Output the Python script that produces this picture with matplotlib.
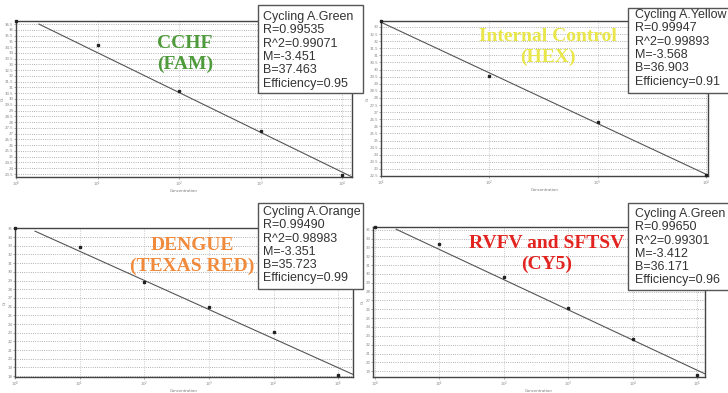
import numpy as np
import matplotlib.pyplot as plt
from matplotlib.patches import Rectangle
from matplotlib.ticker import MultipleLocator, FuncFormatter, LogLocator, NullLocator

# Standard curves: Ct vs concentration, one panel per channel

# CCHF (FAM)
cchf_conc = [1, 10, 100, 1000, 10000]
cchf_ct = [36.75, 34.7, 30.7, 27.2, 23.4]
cchf_fit = (-3.451, 37.463)
cchf_fit_span = (10 ** 0.28, 10 ** 4.12)
cchf_stats = ["Cycling A.Green", "R=0.99535", "R^2=0.99071", "M=-3.451", "B=37.463", "Efficiency=0.95"]

# Internal control (HEX)
hex_conc = [10, 100, 1000, 10000]
hex_ct = [33.4, 29.55, 26.3, 22.6]
hex_fit = (-3.568, 36.903)
hex_fit_span = (10 ** 1.0, 10 ** 4.02)
hex_stats = ["Cycling A.Yellow", "R=0.99947", "R^2=0.99893", "M=-3.568", "B=36.903", "Efficiency=0.91"]

# Dengue (Texas Red)
den_conc = [1, 10, 100, 1000, 10000, 100000]
den_ct = [35.0, 32.9, 28.8, 25.9, 23.1, 18.1]
den_fit = (-3.351, 35.723)
den_fit_span = (10 ** 0.31, 10 ** 5.23)
den_stats = ["Cycling A.Orange", "R=0.99490", "R^2=0.98983", "M=-3.351", "B=35.723", "Efficiency=0.99"]

# RVFV and SFTSV (CY5)
rv_conc = [1, 10, 100, 1000, 10000, 100000]
rv_ct = [35.3, 33.4, 29.6, 26.2, 22.6, 18.6]
rv_fit = (-3.412, 36.171)
rv_fit_span = (10 ** 0.33, 10 ** 5.12)
rv_stats = ["Cycling A.Green", "R=0.99650", "R^2=0.99301", "M=-3.412", "B=36.171", "Efficiency=0.96"]

W, H = 728, 393

# layout in pixels: axes (l, t, r, b), stats box (l, t, r, b), title centre, text start
panels = [
    dict(conc=cchf_conc, ct=cchf_ct, fit=cchf_fit, span=cchf_fit_span, stats=cchf_stats,
         title="CCHF\n(FAM)", color="#4f9b3c",
         ax=(16, 21, 352, 177), xlim=(1, 10 ** 4.12), ylim=(23.24, 36.76), ystep=0.5,
         box=(258, 5, 363, 93), title_xy=(185, 54), text_xy=(263, 17)),
    dict(conc=hex_conc, ct=hex_ct, fit=hex_fit, span=hex_fit_span, stats=hex_stats,
         title="Internal Control\n(HEX)", color="#e8e648",
         ax=(381, 21, 708, 176), xlim=(10, 10 ** 4.02), ylim=(22.5, 33.42), ystep=0.5,
         box=(628, 8, 740, 93), title_xy=(548, 47), text_xy=(635, 15)),
    dict(conc=den_conc, ct=den_ct, fit=den_fit, span=den_fit_span, stats=den_stats,
         title="DENGUE\n(TEXAS RED)", color="#f08a3c",
         ax=(15, 228, 353, 377), xlim=(1, 10 ** 5.23), ylim=(17.9, 35.05), ystep=1,
         box=(258, 203, 363, 289), title_xy=(192, 256), text_xy=(263, 212)),
    dict(conc=rv_conc, ct=rv_ct, fit=rv_fit, span=rv_fit_span, stats=rv_stats,
         title="RVFV and SFTSV\n(CY5)", color="#e3231f",
         ax=(373, 227, 705, 377), xlim=(10 ** -0.03, 10 ** 5.12), ylim=(18.35, 35.3), ystep=1,
         box=(628, 203, 740, 290), title_xy=(547, 254), text_xy=(635, 214)),
]

fig = plt.figure(figsize=(W / 100, H / 100), dpi=100)
fig.patch.set_facecolor("white")

for p in panels:
    l, t, r, b = p["ax"]
    ax = fig.add_axes([l / W, 1 - b / H, (r - l) / W, (b - t) / H])
    ax.set_xscale("log")
    ax.set_xlim(*p["xlim"])
    ax.set_ylim(*p["ylim"])
    ax.yaxis.set_major_locator(MultipleLocator(p["ystep"]))
    ax.yaxis.set_major_formatter(FuncFormatter(lambda v, pos: f"{v:g}"))
    ax.xaxis.set_major_locator(LogLocator(base=10, numticks=10))
    ax.xaxis.set_minor_locator(NullLocator())
    ax.tick_params(labelsize=2.8, colors="#888", length=1.2, width=0.5, pad=0.6)
    ax.grid(axis="y", ls=":", color="#999", lw=0.6)
    ax.grid(axis="x", ls=":", color="#bbb", lw=0.6)
    for s in ax.spines.values():
        s.set_color("#444")
        s.set_linewidth(1.0)
    ax.set_xlabel("Concentration", fontsize=2.8, color="#777", labelpad=0.3)
    ax.set_ylabel("Ct", fontsize=2.8, color="#777", labelpad=0.4)

    # regression line
    m, c = p["fit"]
    xs = np.logspace(np.log10(p["span"][0]), np.log10(p["span"][1]), 50)
    ax.plot(xs, m * np.log10(xs) + c, color="#555", lw=0.8)
    # standards
    ax.plot(p["conc"], p["ct"], "s", ms=1.8, color="#222", clip_on=False, zorder=5)

    # coloured title
    tx, ty = p["title_xy"]
    fig.text(tx / W, 1 - ty / H, p["title"], ha="center", va="center",
             fontsize=14, fontweight="bold", family="Liberation Serif",
             color=p["color"], linespacing=1.3, zorder=4)

    # stats box
    bl, bt, br, bb = p["box"]
    fig.add_artist(Rectangle((bl / W, 1 - bb / H), (br - bl) / W, (bb - bt) / H,
                             transform=fig.transFigure, facecolor="white",
                             edgecolor="#555", lw=1.0, zorder=2))
    sx, sy = p["text_xy"]
    for i, line in enumerate(p["stats"]):
        fig.text(sx / W, 1 - (sy + i * 13.3) / H, line, ha="left", va="center",
                 fontsize=9, family="Liberation Sans", color="#333", zorder=3)

fig.savefig("out.png", dpi=100)
